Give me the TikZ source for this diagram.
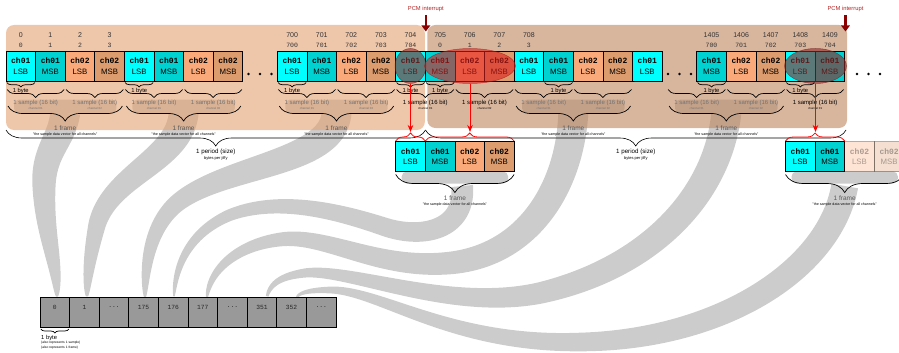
\documentclass[tikz,border=0pt]{standalone}
\usepackage{fontspec}
\setmainfont{Liberation Sans}
\setsansfont{Liberation Sans}
\setmonofont{Liberation Mono}
\usetikzlibrary{decorations.pathreplacing,decorations.markings,shapes.geometric,arrows.meta}

\definecolor{cA}{RGB}{0,255,255}
\definecolor{cB}{RGB}{0,210,210}
\definecolor{cC}{RGB}{250,170,122}
\definecolor{cD}{RGB}{220,156,110}
\definecolor{bandcol}{RGB}{204,204,204}
\definecolor{peachL}{RGB}{227,160,112}
\definecolor{peachR}{RGB}{190,133,93}
\definecolor{pcmred}{RGB}{139,0,0}
\definecolor{pcmtxt}{RGB}{178,34,34}
\definecolor{ovlAc}{RGB}{150,40,40}
\definecolor{ovlBc}{RGB}{222,30,30}
\definecolor{bottomgray}{RGB}{153,153,153}

\tikzset{
  pbox/.style={draw=black,line width=0.7pt,minimum width=29.6pt,minimum height=30pt,inner sep=0pt,outer sep=0pt,anchor=north west,align=center,font=\fontsize{8}{10.5}\selectfont},
  bbox/.style={draw=black,line width=0.7pt,fill=bottomgray,minimum width=29.6pt,minimum height=30pt,inner sep=0pt,outer sep=0pt,anchor=north west},
  btxt/.style={font=\fontsize{6.3}{7}\selectfont\ttfamily,text=black!85,inner sep=0pt},
  idx/.style={font=\fontsize{7}{8}\selectfont,text=black!80,inner sep=0pt},
  idxm/.style={font=\fontsize{6.5}{7}\selectfont\ttfamily,text=black!80,inner sep=0pt},
  bytelbl/.style={font=\fontsize{5.8}{6}\selectfont,inner sep=0pt},
  smp/.style={font=\fontsize{6}{6}\selectfont,inner sep=0pt},
  chn/.style={font=\fontsize{2.9}{3}\selectfont,inner sep=0pt},
  frm/.style={font=\fontsize{6.5}{7}\selectfont,text=black!65,inner sep=0pt},
  quo/.style={font=\fontsize{3.6}{4}\selectfont,inner sep=0pt},
  per/.style={font=\fontsize{6.2}{7}\selectfont,inner sep=0pt},
  pers/.style={font=\fontsize{4}{4}\selectfont,inner sep=0pt},
  tinylbl/.style={font=\fontsize{3.3}{4}\selectfont,inner sep=0pt,anchor=west},
  pcmlbl/.style={font=\fontsize{5.8}{6}\selectfont,text=pcmtxt,inner sep=0pt},
  pcmarr/.style={draw=pcmred,line width=2.6pt,-{Triangle[width=8.5pt,length=6pt]},shorten <=2.5pt},
  brc/.style={draw=black,line width=0.7pt,decorate},
  redbrc/.style={draw=red,line width=0.8pt,decorate,decoration={brace,amplitude=8pt}},
  perbrc/.style={draw=black,line width=0.6pt,decorate,decoration={brace,mirror,amplitude=16pt}},
  redarr/.style={draw=red,line width=0.9pt,-{Stealth[length=7pt,width=5.5pt]}},
  ovlA/.style={ellipse,draw=ovlAc!70!black,fill=ovlAc,opacity=0.62,line width=0.5pt,inner sep=0pt,minimum height=35pt},
  ovlB/.style={ellipse,draw=ovlBc!70!black,fill=ovlBc,opacity=0.6,line width=0.5pt,inner sep=0pt,minimum height=35pt},
  bandcollect/.style={postaction={decorate},decoration={markings,mark=between positions 0 and 1 step 0.8pt with {%
      \pgfmathsetmacro\bandr{#1*sqrt(max(0,1-\pgfkeysvalueof{/pgf/decoration/mark info/distance from start}/\pgfdecoratedpathlength))}%
      \pgfpointtransformed{\pgfqpoint{0pt}{\bandr pt}}\pgfgetlastxy{\bmx}{\bmy}%
      \xdef\bandL{\bandL (\bmx,\bmy)}%
      \pgfpointtransformed{\pgfqpoint{0pt}{-\bandr pt}}\pgfgetlastxy{\bmx}{\bmy}%
      \xdef\bandR{(\bmx,\bmy) \bandR}%
    }}}
}

\newcommand\flowband[2]{%
  \gdef\bandL{}\gdef\bandR{}%
  \path[bandcollect=#1] #2;%
  \edef\bandtmp{\noexpand\fill[bandcol] plot coordinates {\bandL} -- plot coordinates {\bandR} -- cycle;}%
  \bandtmp}

\newcommand\mydots{...}
\newcommand\chl[2]{{\fontsize{8}{8}\selectfont\ttfamily\bfseries #1}\\{\fontsize{7.8}{8}\selectfont #2}}
\newcommand\pcmA[3]{\node[pbox,fill=cA] (#1) at (#2,#3) {\chl{ch01}{LSB}};}
\newcommand\pcmB[3]{\node[pbox,fill=cB] (#1) at (#2,#3) {\chl{ch01}{MSB}};}
\newcommand\pcmC[3]{\node[pbox,fill=cC] (#1) at (#2,#3) {\chl{ch02}{LSB}};}
\newcommand\pcmD[3]{\node[pbox,fill=cD] (#1) at (#2,#3) {\chl{ch02}{MSB}};}
\newcommand\mkbyte[3]{%
  \draw[brc,decoration={brace,mirror,amplitude=4.5pt}] (#2+0.8,82.5) -- (#3-0.8,82.5);
  \node[bytelbl] (#1) at ({(#2+#3)/2},91) {1 byte};}
\newcommand\mksample[5]{%
  \draw[brc,decoration={brace,mirror,amplitude=8pt}] (#2+1,89.5) -- (#3-1,89.5);
  \node[smp,text=#5] (#1) at ({(#2+#3)/2},102.5) {1 sample (16 bit)};
  \node[chn,text=#5] (#1c) at ({(#2+#3)/2},108.3) {channel #4};}
\newcommand\mkframe[3]{%
  \draw[brc,decoration={brace,mirror,amplitude=15pt}] (#2+2,106) -- (#3-2,106);
  \node[frm] (#1) at ({(#2+#3)/2},127.7) {1 frame};
  \node[quo] (#1q) at ({(#2+#3)/2},134.8) {"the sample data vector for all channels"};}

\begin{document}
\begin{tikzpicture}[x=1pt,y=-1pt]
\useasboundingbox (0,0) rectangle (899,353);

% ---------- flow bands (drawn first, solid) ----------
\flowband{15}{(65.2,113) .. controls (62,140) and (44,150) .. (44,185) .. controls (44,232) and (57,262) .. (57,297)}
\flowband{15}{(183.6,113) .. controls (180,160) and (110,175) .. (97,225) .. controls (90,255) and (87,280) .. (87,297)}
\flowband{15}{(336.5,113) .. controls (333,165) and (220,165) .. (175,205) .. controls (150,228) and (145,265) .. (145,297)}
\flowband{11}{(462,186) .. controls (466,228) and (425,240) .. (385,227) .. controls (340,212) and (280,196) .. (230,215) .. controls (190,232) and (175,265) .. (174,297)}
\flowband{15}{(573.3,113) .. controls (570,185) and (530,255) .. (450,263) .. controls (380,270) and (330,236) .. (285,239) .. controls (240,243) and (210,268) .. (207,297)}
\flowband{15}{(726.3,113) .. controls (718,195) and (650,268) .. (540,293) .. controls (450,312) and (350,268) .. (305,273) .. controls (282,276) and (270,283) .. (267,297)}
\flowband{13.5}{(844.7,186) .. controls (830,270) and (720,340) .. (580,342) .. controls (450,345) and (380,290) .. (330,290) .. controls (312,290) and (300,292) .. (297,297)}

% brace interiors
\fill[bandcol,rounded corners=5pt] (14,99.5) rectangle (116.4,113.5);
\fill[bandcol,rounded corners=5pt] (132.4,99.5) rectangle (234.8,113.5);
\fill[bandcol,rounded corners=5pt] (285.3,99.5) rectangle (387.7,113.5);
\fill[bandcol,rounded corners=5pt] (522.1,99.5) rectangle (624.5,113.5);
\fill[bandcol,rounded corners=5pt] (675.1,99.5) rectangle (777.5,113.5);
\fill[bandcol,rounded corners=5pt] (401.7,171.5) rectangle (508.1,183.5);
\fill[bandcol,rounded corners=5pt] (791.5,171.5) rectangle (897.9,183.5);

% ---------- background regions ----------
\fill[peachL,opacity=0.6,rounded corners=8pt] (6,25) rectangle (424.8,130);
\fill[peachR,opacity=0.6,rounded corners=8pt] (427.3,25) rectangle (847,128);

% ---------- PCM interrupts ----------
\node[pcmlbl] (p1) at (425.8,9.5) {PCM interrupt};
\coordinate (p1e) at (425.8,31.5);
\draw[pcmarr] (p1) -- (p1e);
\node[pcmlbl] (p2) at (845.5,9.5) {PCM interrupt};
\coordinate (p2e) at (845.5,31.5);
\draw[pcmarr] (p2) -- (p2e);

% ---------- top row of bytes ----------
\pcmA{b0}{6}{51} \pcmB{b1}{35.6}{51} \pcmC{b2}{65.2}{51} \pcmD{b3}{94.8}{51}
\pcmA{b4}{124.4}{51} \pcmB{b5}{154}{51} \pcmC{b6}{183.6}{51} \pcmD{b7}{213.2}{51}
\pcmA{c700}{277.3}{51} \pcmB{c701}{306.9}{51} \pcmC{c702}{336.5}{51} \pcmD{c703}{366.1}{51}
\pcmA{c704}{395.7}{51} \pcmB{c705}{425.3}{51} \pcmC{c706}{454.9}{51} \pcmD{c707}{484.5}{51}
\pcmA{c708}{514.1}{51} \pcmB{c709}{543.7}{51} \pcmC{c710}{573.3}{51} \pcmD{c711}{602.9}{51}
\pcmA{c712}{632.5}{51}
\pcmB{d1405}{696.7}{51} \pcmC{d1406}{726.3}{51} \pcmD{d1407}{755.9}{51} \pcmA{d1408}{785.5}{51} \pcmB{d1409}{815.1}{51}

\foreach \nm/\t in {b0/0,b1/1,b2/2,b3/3,c700/700,c701/701,c702/702,c703/703,c704/704,c705/705,c706/706,c707/707,c708/708,d1405/1405,d1406/1406,d1407/1407,d1408/1408,d1409/1409}
  {\node[idx] (i\nm) at ([yshift=16pt]\nm.north) {\t};}
\foreach \nm/\t in {b0/0,b1/1,b2/2,b3/3,c700/700,c701/701,c702/702,c703/703,c704/704,c705/0,c706/1,c707/2,c708/3,d1405/700,d1406/701,d1407/702,d1408/703,d1409/704}
  {\node[idxm] (j\nm) at ([yshift=6pt]\nm.north) {\t};}

% dots
\foreach \xx in {248.5,260,271.5,668,679.5,691,857,868.5,880}
  {\fill (\xx,74) circle[radius=1.4];}

% ---------- overlays ----------
\node[ovlA,minimum width=31pt] (el1) at (410.5,66) {};
\node[ovlB,minimum width=91pt] (el2) at (470,66) {};
\node[ovlA,minimum width=62pt] (el3) at (815.5,66) {};

% ---------- braces under top row ----------
\mkbyte{y1}{6}{35.6} \mkbyte{y2}{124.4}{154} \mkbyte{y3}{277.3}{306.9} \mkbyte{y4}{395.7}{425.3}
\mkbyte{y5}{425.3}{454.9} \mkbyte{y6}{543.7}{573.3} \mkbyte{y7}{696.7}{726.3} \mkbyte{y8}{785.5}{815.1}

\mksample{s1}{6}{65.2}{01}{black!55}
\mksample{s2}{65.2}{124.4}{02}{black!55}
\mksample{s3}{124.4}{183.6}{01}{black!55}
\mksample{s4}{183.6}{242.8}{02}{black!55}
\mksample{s5}{277.3}{336.5}{01}{black!55}
\mksample{s6}{336.5}{395.7}{02}{black!55}
\mksample{s7}{395.7}{454.9}{01}{black}
\mksample{s8}{454.9}{514.1}{02}{black}
\mksample{s9}{514.1}{573.3}{01}{black!55}
\mksample{s10}{573.3}{632.5}{02}{black!55}
\mksample{s11}{667.1}{726.3}{01}{black!55}
\mksample{s12}{726.3}{785.5}{02}{black!55}
\mksample{s13}{785.5}{844.7}{01}{black}

\mkframe{fr1}{6}{124.4} \mkframe{fr2}{124.4}{242.8} \mkframe{fr3}{277.3}{395.7}
\mkframe{fr4}{514.1}{632.5} \mkframe{fr5}{667.1}{785.5}

% ---------- periods ----------
\coordinate (pa) at (6,130);
\coordinate (pb) at (425.5,130);
\coordinate (pc) at (846,130);
\draw[perbrc] (pa) -- (pb);
\draw[perbrc] (pb) -- (pc);
\node[per] (pl1) at (215.8,152) {1 period (size)};
\node[pers] (pl1s) at (215.8,158) {bytes per jiffy};
\node[per] (pl2) at (635.8,152) {1 period (size)};
\node[pers] (pl2s) at (635.8,158) {bytes per jiffy};

% ---------- extracted frames ----------
\pcmA{e1}{395.7}{141.5} \pcmB{e2}{425.3}{141.5} \pcmC{e3}{454.9}{141.5} \pcmD{e4}{484.5}{141.5}
\pcmA{f1}{785.5}{141.5} \pcmB{f2}{815.1}{141.5}
\node[pbox,fill=cC,opacity=0.32] (f3) at (844.7,141.5) {\chl{ch02}{LSB}};
\node[pbox,fill=cD,opacity=0.32] (f4) at (874.3,141.5) {\chl{ch02}{MSB}};

\draw[redbrc] ([yshift=0.5pt]e1.north west) -- ([yshift=0.5pt]e1.north east);
\draw[redbrc] ([yshift=0.5pt]e2.north west) -- ([yshift=0.5pt]e4.north east);
\draw[redbrc] ([yshift=0.5pt]f1.north west) -- ([yshift=0.5pt]f2.north east);

\coordinate (r1) at (410.5,132);
\coordinate (r2) at (470,132);
\coordinate (r3) at (815.5,132);
\draw[redarr] (el1.south) -- (r1);
\draw[redarr] (el2.south) -- (r2);
\draw[redarr] (el3.south) -- (r3);

\draw[brc,decoration={brace,mirror,amplitude=18pt}] ([yshift=-3pt]e1.south west) -- ([yshift=-3pt]e4.south east);
\node[frm] (xf1) at (454.9,198) {1 frame};
\node[quo] (xf1q) at (454.9,204.5) {"the sample data vector for all channels"};
\draw[brc,decoration={brace,mirror,amplitude=18pt}] ([yshift=-3pt]f1.south west) -- ([yshift=-3pt]f4.south east);
\node[frm] (xf2) at (844.7,198) {1 frame};
\node[quo] (xf2q) at (844.7,204.5) {"the sample data vector for all channels"};

% ---------- bottom buffer ----------
\foreach \k/\t in {0/0,1/1,2/\mydots,3/175,4/176,5/177,6/\mydots,7/351,8/352,9/\mydots}
  {\node[bbox] (g\k) at ({40+29.6*\k},297) {};
   \node[btxt] (gt\k) at ([yshift=-10pt]g\k.north) {\t};}
\draw[brc,decoration={brace,mirror,amplitude=4pt}] ([xshift=0.8pt,yshift=-2pt]g0.south west) -- ([xshift=-0.8pt,yshift=-2pt]g0.south east);
\node[bytelbl,anchor=west] (bb1) at (41,337.5) {1 byte};
\node[tinylbl] (bb2) at (41,343) {(also represents 1 sample)};
\node[tinylbl] (bb3) at (41,347.5) {(also represents 1 frame)};
\end{tikzpicture}
\end{document}
